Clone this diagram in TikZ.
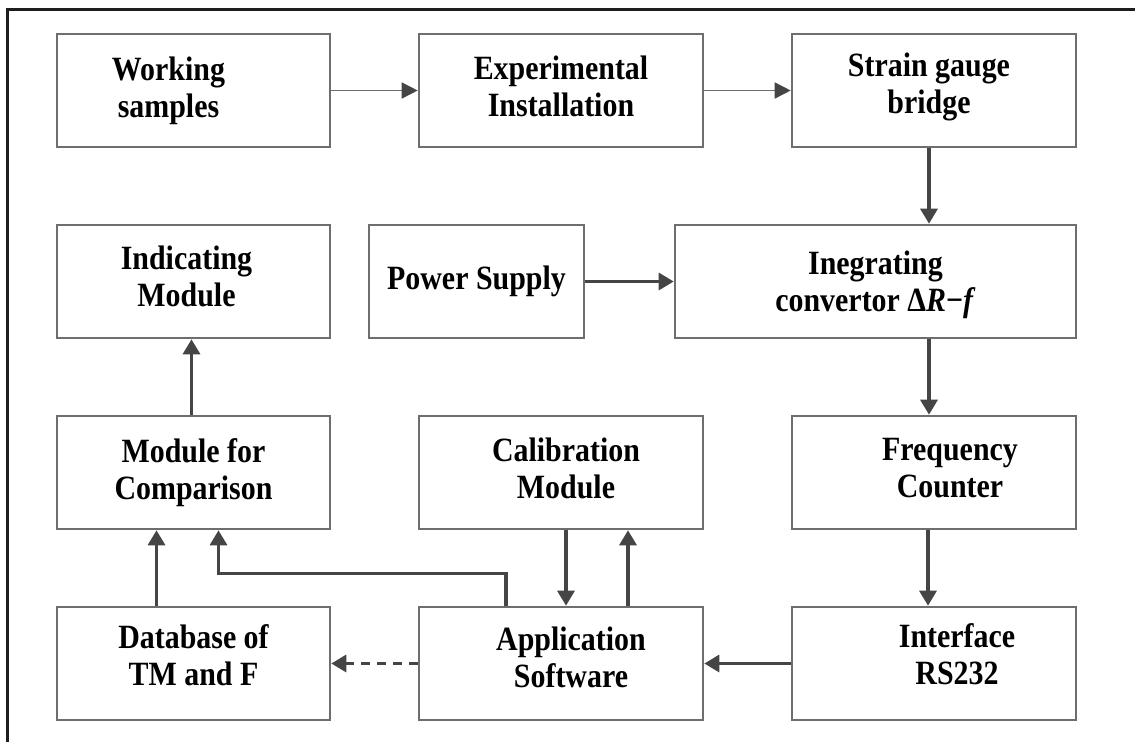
\documentclass[tikz,border=0pt]{standalone}
\usepackage{fontspec}
\setmainfont{Liberation Serif}[FakeStretch=0.88]
\usetikzlibrary{arrows.meta}

\definecolor{boxgray}{HTML}{6E6E6E}
\definecolor{arrowgray}{HTML}{454545}
\definecolor{framegray}{HTML}{1E1E1E}

\tikzset{
  block/.style={draw=boxgray, line width=2.6pt, minimum height=113pt, inner sep=0pt},
  blocktext/.style={align=center, font=\fontsize{34}{37}\selectfont\bfseries},
  thinarrow/.style={draw=boxgray, line width=1.6pt, -{Triangle[length=16pt,width=16pt,color=arrowgray]}},
  thickarrow/.style={draw=arrowgray, line width=3.2pt, -{Triangle[length=15pt,width=17pt]}},
  dashedarrow/.style={thickarrow, dash pattern=on 9pt off 7pt}
}

\begin{document}
\begin{tikzpicture}[x=1pt, y=-1pt]
    \useasboundingbox (0,0) rectangle (1135,742);

    % Frame (top and left edges only)
    \draw[framegray, line width=3pt] (7,742) -- (7,9) -- (1135,9);

    % Row 1
    \node[block, minimum width=273pt] (ws) at (193.5,90.5) {};
    \node[block, minimum width=284pt] (exp) at (561,90.5) {};
    \node[block, minimum width=284pt] (sg) at (934,90.5) {};
    \node[blocktext] (wsT) at ([xshift=-25pt]ws) {Working\\samples};
    \node[blocktext] (expT) at ([yshift=4pt]exp) {Experimental\\Installation};
    \node[blocktext] (sgT) at ([xshift=-5pt,yshift=4pt]sg) {Strain gauge\\bridge};

    % Row 2
    \node[block, minimum width=273pt] (ind) at (193.5,281.5) {};
    \node[block, minimum width=215pt] (ps) at (476.5,281.5) {};
    \node[block, minimum width=401pt] (int) at (875.5,281.5) {};
    \node[blocktext] (indT) at ([xshift=-7pt,yshift=5pt]ind) {Indicating\\Module};
    \node[blocktext] (psT) at (ps) {Power Supply};
    \node[blocktext] (intT) at ([yshift=-3pt]int) {Inegrating\\convertor \textup{Δ}\textit{R}−\textit{f}};

    % Row 3
    \node[block, minimum width=273pt] (mc) at (193.5,472.5) {};
    \node[block, minimum width=284pt] (cal) at (561,472.5) {};
    \node[block, minimum width=284pt] (fc) at (934,472.5) {};
    \node[blocktext] (mcT) at (mc) {Module for\\Comparison};
    \node[blocktext] (calT) at ([xshift=5pt,yshift=4pt]cal) {Calibration\\Module};
    \node[blocktext] (fcT) at ([xshift=16pt,yshift=4pt]fc) {Frequency\\Counter};

    % Row 4
    \node[block, minimum width=273pt] (db) at (193.5,663.5) {};
    \node[block, minimum width=284pt] (app) at (561,663.5) {};
    \node[block, minimum width=284pt] (rs) at (934,663.5) {};
    \node[blocktext] (dbT) at ([yshift=8pt]db) {Database of\\TM and F};
    \node[blocktext] (appT) at ([xshift=10pt,yshift=6pt]app) {Application\\Software};
    \node[blocktext] (rsT) at ([xshift=23pt,yshift=9pt]rs) {Interface\\RS232};

    % Connectors
    \draw[thinarrow] (ws.east) -- (exp.west);
    \draw[thinarrow] (exp.east) -- (sg.west);
    \draw[thickarrow] ([xshift=-5pt]sg.south) -- ([xshift=-5pt]sg.south |- int.north);
    \draw[thickarrow] ([xshift=-5pt]sg.south |- int.south) -- ([xshift=-5pt]fc.north);
    \draw[thickarrow] ([xshift=-6pt]fc.south) -- ([xshift=-6pt]rs.north);
    \draw[thickarrow] (ps.east) -- (int.west);
    \draw[thickarrow] (rs.west) -- (app.east);
    \draw[dashedarrow] (app.west) -- (db.east);
    \draw[thickarrow] ([xshift=-2pt]mc.north) -- ([xshift=-2pt]ind.south);
    \draw[thickarrow] ([xshift=-37pt]db.north) -- ([xshift=-37pt]mc.south);
    \draw[thickarrow] ([xshift=-55pt]app.north) -- ++(0,-32) -| ([xshift=25pt]mc.south);
    \draw[thickarrow] ([xshift=5pt]cal.south) -- ([xshift=5pt]app.north);
    \draw[thickarrow] ([xshift=67pt]app.north) -- ([xshift=67pt]cal.south);
\end{tikzpicture}
\end{document}
